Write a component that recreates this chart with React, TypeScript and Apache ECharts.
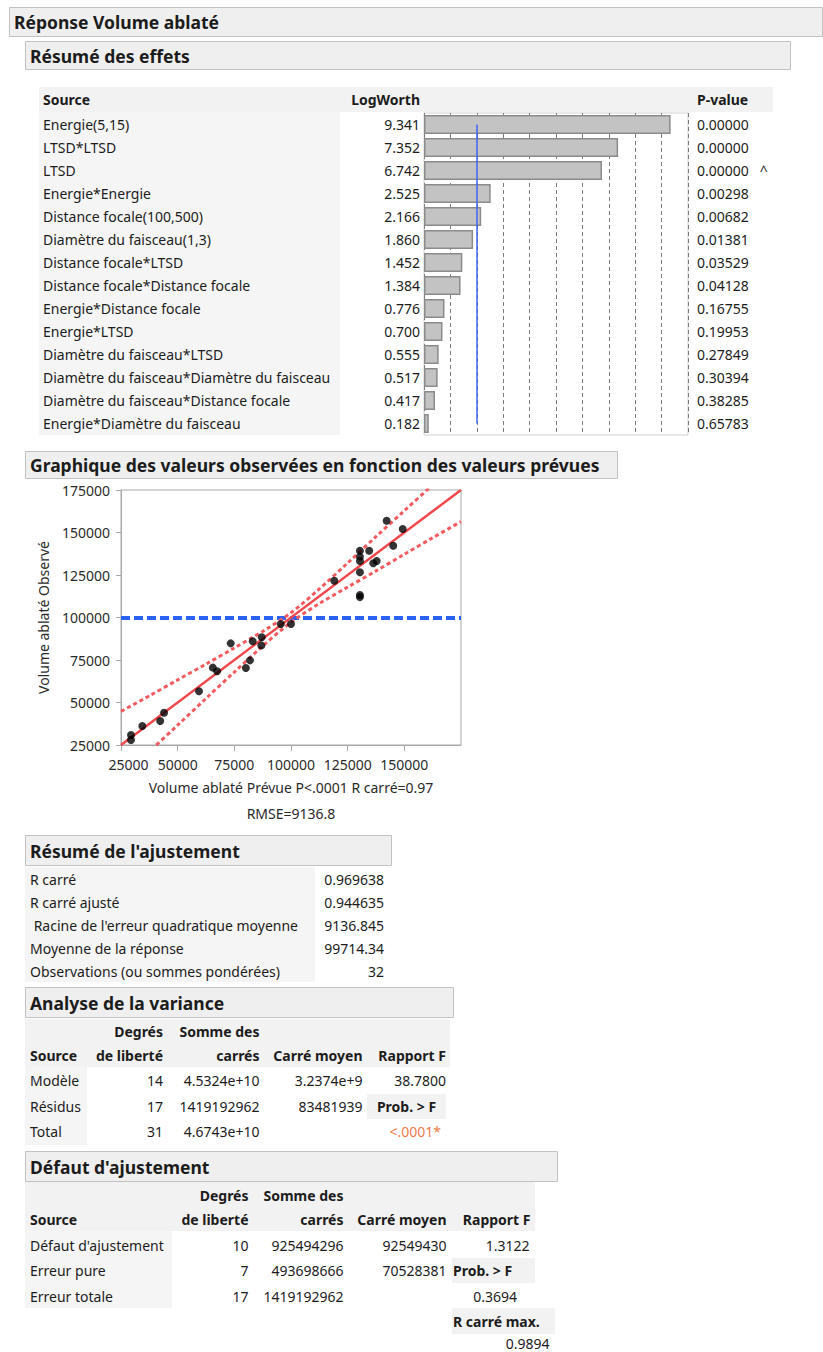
import React, { useEffect, useRef } from "react";
import * as echarts from "echarts";

// ---------- Effects summary ----------
const sources = [
  "Energie(5,15)",
  "LTSD*LTSD",
  "LTSD",
  "Energie*Energie",
  "Distance focale(100,500)",
  "Diamètre du faisceau(1,3)",
  "Distance focale*LTSD",
  "Distance focale*Distance focale",
  "Energie*Distance focale",
  "Energie*LTSD",
  "Diamètre du faisceau*LTSD",
  "Diamètre du faisceau*Diamètre du faisceau",
  "Diamètre du faisceau*Distance focale",
  "Energie*Diamètre du faisceau",
];
const logWorth = [9.341, 7.352, 6.742, 2.525, 2.166, 1.86, 1.452, 1.384, 0.776, 0.7, 0.555, 0.517, 0.417, 0.182];
const pValues = ["0.00000", "0.00000", "0.00000", "0.00298", "0.00682", "0.01381", "0.03529", "0.04128", "0.16755", "0.19953", "0.27849", "0.30394", "0.38285", "0.65783"];
const pFlags = ["", "", "^", "", "", "", "", "", "", "", "", "", "", ""];
const logWorthRef = 2;

// ---------- Actual by predicted ----------
const predicted = [29400, 29400, 34400, 42300, 44000, 59400, 65500, 67400, 73400, 80100, 81900, 83100, 87100, 86900, 95500, 100000, 119100, 130400, 130400, 130400, 130400, 130400, 130400, 134500, 136300, 137800, 142200, 145100, 149300];
const observed = [30900, 27900, 36200, 39100, 44000, 56600, 70500, 68400, 84800, 70300, 74800, 86000, 88400, 83600, 96200, 96200, 121600, 139300, 135800, 133200, 126600, 113200, 112000, 139300, 131900, 133200, 156900, 142200, 152100];
const fitLineX = [25000, 175000];
const fitLineY = [25000, 175000];
const meanResponse = 99714.34;
const bandX = [25000, 37500, 50000, 62500, 75000, 87500, 100000, 112500, 125000, 137500, 150000, 162500, 175000];
const bandUpper = [44800, 53900, 63300, 72600, 82100, 91800, 102800, 116800, 132100, 147600, 162800, 178100, 193600];
const bandLower = [5200, 21100, 36700, 52400, 67900, 83200, 97200, 108200, 117900, 127400, 137200, 146900, 156400];
const axisMin = 25000;
const axisMax = 175000;
const axisStep = 25000;
const xTitle = "Volume ablaté Prévue P<.0001 R carré=0.97";
const yTitle = "Volume ablaté Observé";
const rmseText = "RMSE=9136.8";

// ---------- Summary of fit ----------
const fitLabels = ["R carré", "R carré ajusté", " Racine de l'erreur quadratique moyenne", "Moyenne de la réponse", "Observations (ou sommes pondérées)"];
const fitValues = ["0.969638", "0.944635", "9136.845", "99714.34", "32"];

// ---------- ANOVA ----------
const anovaSources = ["Modèle", "Résidus", "Total"];
const anovaDF = ["14", "17", "31"];
const anovaSS = ["4.5324e+10", "1419192962", "4.6743e+10"];
const anovaMS = ["3.2374e+9", "83481939", ""];
const anovaF = "38.7800";
const anovaProb = "<.0001*";

// ---------- Lack of fit ----------
const lofSources = ["Défaut d'ajustement", "Erreur pure", "Erreur totale"];
const lofDF = ["10", "7", "17"];
const lofSS = ["925494296", "493698666", "1419192962"];
const lofMS = ["92549430", "70528381", ""];
const lofF = "1.3122";
const lofProb = "0.3694";
const lofMaxR2 = "0.9894";

const FONT = '"Noto Sans", "DejaVu Sans", sans-serif';
const TXT = "#1c1c1c";
const BOX_FILL = "#efefef";
const BOX_STROKE = "#c2c2c2";
const HEAD_FILL = "#f2f2f2";
const COL_FILL = "#f5f5f5";
const FS = 14;
const TITLE_FS = 17.5;

function T(x: number, y: number, text: string, o: any = {}) {
  const align = o.align || "left";
  return {
    type: "text",
    x,
    y,
    z: 10,
    silent: true,
    style: {
      text,
      fill: o.fill || TXT,
      font: `${o.bold ? "bold " : ""}${o.size || FS}px ${FONT}`,
      textAlign: align,
      align,
      textVerticalAlign: "middle",
      verticalAlign: "middle",
    },
  };
}
function R(x: number, y: number, w: number, h: number, fill: string, stroke?: string) {
  return {
    type: "rect",
    z: -1,
    silent: true,
    shape: { x, y, width: w, height: h },
    style: { fill, stroke: stroke || null, lineWidth: 1 },
  };
}
function TitleBox(x: number, y: number, w: number, h: number, text: string, tx: number) {
  return [R(x + 0.5, y + 0.5, w, h, BOX_FILL, BOX_STROKE), T(tx, y + h / 2 + 0.5, text, { bold: true, size: TITLE_FS })];
}

function buildGraphics() {
  const g: any[] = [];
  g.push(...TitleBox(9, 7, 813, 29, "Réponse Volume ablaté", 14));
  g.push(...TitleBox(25, 41, 765, 28, "Résumé des effets", 30));

  g.push(R(39, 87, 734, 25, HEAD_FILL));
  g.push(R(39, 112, 301, 323, COL_FILL));
  g.push(T(43, 99.5, "Source", { bold: true }));
  g.push(T(420, 99.5, "LogWorth", { bold: true, align: "right" }));
  g.push(T(697, 99.5, "P-value", { bold: true }));

  g.push(...TitleBox(25, 451, 592, 27, "Graphique des valeurs observées en fonction des valeurs prévues", 30));
  g.push(T(291, 813, rmseText, { align: "center", fill: "#2a2a2a" }));

  g.push(...TitleBox(25, 835, 366, 30, "Résumé de l'ajustement", 30));
  g.push(R(25, 867, 290, 115, COL_FILL));
  fitLabels.forEach((l, i) => {
    const y = 879 + 23 * i;
    g.push(T(30, y, l));
    g.push(T(384, y, fitValues[i], { align: "right" }));
  });

  g.push(...TitleBox(25, 987, 428, 30, "Analyse de la variance", 30));
  g.push(R(25, 1019, 425, 48, HEAD_FILL));
  g.push(R(25, 1067, 62, 78, COL_FILL));
  g.push(R(367, 1094, 79, 25, HEAD_FILL));
  g.push(T(163, 1031.5, "Degrés", { bold: true, align: "right" }));
  g.push(T(259.5, 1031.5, "Somme des", { bold: true, align: "right" }));
  g.push(T(30, 1055, "Source", { bold: true }));
  g.push(T(163, 1055, "de liberté", { bold: true, align: "right" }));
  g.push(T(259.5, 1055, "carrés", { bold: true, align: "right" }));
  g.push(T(362.5, 1055, "Carré moyen", { bold: true, align: "right" }));
  g.push(T(446, 1055, "Rapport F", { bold: true, align: "right" }));
  anovaSources.forEach((s, i) => {
    const y = 1080.5 + 25.5 * i;
    g.push(T(30, y, s));
    g.push(T(163, y, anovaDF[i], { align: "right" }));
    g.push(T(259.5, y, anovaSS[i], { align: "right" }));
    if (anovaMS[i]) g.push(T(362.5, y, anovaMS[i], { align: "right" }));
  });
  g.push(T(446, 1080.5, anovaF, { align: "right" }));
  g.push(T(406.5, 1106, "Prob. > F", { bold: true, align: "center" }));
  g.push(T(441, 1131.5, anovaProb, { align: "right", fill: "#f07a45" }));

  g.push(...TitleBox(25, 1151, 532, 30, "Défaut d'ajustement", 30));
  g.push(R(25, 1182, 510, 49, HEAD_FILL));
  g.push(R(25, 1231, 147, 77, COL_FILL));
  g.push(R(452, 1258, 83, 25, HEAD_FILL));
  g.push(R(452, 1308, 103, 26, HEAD_FILL));
  g.push(T(248.5, 1195, "Degrés", { bold: true, align: "right" }));
  g.push(T(343.5, 1195, "Somme des", { bold: true, align: "right" }));
  g.push(T(30, 1219, "Source", { bold: true }));
  g.push(T(248.5, 1219, "de liberté", { bold: true, align: "right" }));
  g.push(T(343.5, 1219, "carrés", { bold: true, align: "right" }));
  g.push(T(446.5, 1219, "Carré moyen", { bold: true, align: "right" }));
  g.push(T(530.5, 1219, "Rapport F", { bold: true, align: "right" }));
  lofSources.forEach((s, i) => {
    const y = 1245 + 25.5 * i;
    g.push(T(30, y, s));
    g.push(T(248.5, y, lofDF[i], { align: "right" }));
    g.push(T(343.5, y, lofSS[i], { align: "right" }));
    if (lofMS[i]) g.push(T(446.5, y, lofMS[i], { align: "right" }));
  });
  g.push(T(529.5, 1245, lofF, { align: "right" }));
  g.push(T(453, 1270.5, "Prob. > F", { bold: true }));
  g.push(T(517, 1296, lofProb, { align: "right" }));
  g.push(T(453, 1321, "R carré max.", { bold: true }));
  g.push(T(549.5, 1343.5, lofMaxR2, { align: "right" }));
  return g;
}

function buildOption() {
  const axisText = { color: "#2a2a2a", fontSize: FS, fontFamily: FONT };
  return {
    animation: false,
    backgroundColor: "#ffffff",
    textStyle: { fontFamily: FONT },
    grid: [
      { left: 424, top: 113, width: 264, height: 322, show: true, borderColor: "#d2d2d2", borderWidth: 1, backgroundColor: "#ffffff" },
      { left: 121, top: 490, width: 340, height: 255, show: true, borderColor: "#a9a9a9", borderWidth: 1, backgroundColor: "#ffffff" },
    ],
    xAxis: [
      {
        gridIndex: 0,
        type: "value",
        min: 0,
        max: 10,
        interval: 1,
        axisLine: { show: false },
        axisTick: { show: false },
        axisLabel: { show: false },
        splitLine: { show: true, lineStyle: { color: "#7c7c7c", type: [4, 3], width: 1 } },
      },
      {
        gridIndex: 1,
        type: "value",
        min: axisMin,
        max: axisMax,
        interval: axisStep,
        name: xTitle,
        nameLocation: "middle",
        nameGap: 42,
        nameTextStyle: { ...axisText, verticalAlign: "middle" },
        axisLine: { show: true, lineStyle: { color: "#a9a9a9" } },
        axisTick: { show: true, length: 6, lineStyle: { color: "#a9a9a9" } },
        axisLabel: {
          ...axisText,
          margin: 12,
          showMaxLabel: false,
          formatter: (v: number) => (v === axisMin ? `{f|${v}}` : String(v)),
          rich: { f: { ...axisText, padding: [0, 0, 0, 15] } },
        },
        splitLine: { show: false },
      },
    ],
    yAxis: [
      {
        gridIndex: 0,
        type: "category",
        data: sources,
        inverse: true,
        position: "left",
        axisLine: { show: false },
        axisTick: { show: false },
        axisLabel: { ...axisText, color: TXT, interval: 0, margin: 381, align: "left" },
        splitLine: { show: false },
      },
      {
        gridIndex: 0,
        type: "category",
        data: sources,
        inverse: true,
        position: "right",
        axisLine: { show: false },
        axisTick: { show: false },
        axisLabel: {
          ...axisText,
          color: TXT,
          interval: 0,
          margin: 9,
          align: "left",
          formatter: (_v: string, i: number) => pValues[i] + (pFlags[i] ? "   " + pFlags[i] : ""),
        },
        splitLine: { show: false },
      },
      {
        gridIndex: 1,
        type: "value",
        min: axisMin,
        max: axisMax,
        interval: axisStep,
        name: yTitle,
        nameLocation: "middle",
        nameGap: 78,
        nameRotate: 90,
        nameTextStyle: { ...axisText, verticalAlign: "middle" },
        axisLine: { show: true, lineStyle: { color: "#a9a9a9" } },
        axisTick: { show: true, length: 5, lineStyle: { color: "#a9a9a9" } },
        axisLabel: { ...axisText, margin: 11, formatter: (v: number) => String(v) },
        splitLine: { show: false },
      },
    ],
    graphic: { elements: buildGraphics() },
    series: [
      {
        type: "bar",
        xAxisIndex: 0,
        yAxisIndex: 0,
        data: logWorth,
        barWidth: 19,
        itemStyle: { color: "#c3c3c3", borderColor: "#8b8b8b", borderWidth: 1.5 },
        label: {
          show: true,
          position: "left",
          distance: 4,
          formatter: (p: any) => Number(p.value).toFixed(3),
          color: TXT,
          fontSize: FS,
          fontFamily: FONT,
        },
        markLine: {
          silent: true,
          symbol: "none",
          label: { show: false },
          lineStyle: { color: "#3b66f0", width: 1.5, type: "solid" },
          data: [[{ coord: [logWorthRef, sources[0]] }, { coord: [logWorthRef, sources[sources.length - 1]] }]],
        },
      },
      {
        type: "line",
        xAxisIndex: 1,
        yAxisIndex: 2,
        data: [[axisMin, meanResponse], [axisMax, meanResponse]],
        symbol: "none",
        lineStyle: { color: "#2b62f6", width: 4, type: [9, 4] },
        z: 2,
      },
      {
        type: "line",
        xAxisIndex: 1,
        yAxisIndex: 2,
        data: bandX.map((x, i) => [x, bandUpper[i]]),
        symbol: "none",
        smooth: 0.3,
        clip: true,
        lineStyle: { color: "#f45b5f", width: 3, type: [4, 3] },
        z: 3,
      },
      {
        type: "line",
        xAxisIndex: 1,
        yAxisIndex: 2,
        data: bandX.map((x, i) => [x, bandLower[i]]),
        symbol: "none",
        smooth: 0.3,
        clip: true,
        lineStyle: { color: "#f45b5f", width: 3, type: [4, 3] },
        z: 3,
      },
      {
        type: "line",
        xAxisIndex: 1,
        yAxisIndex: 2,
        data: fitLineX.map((x, i) => [x, fitLineY[i]]),
        symbol: "none",
        lineStyle: { color: "#f0484c", width: 2.5 },
        z: 4,
      },
      {
        type: "scatter",
        xAxisIndex: 1,
        yAxisIndex: 2,
        data: predicted.map((x, i) => [x, observed[i]]),
        symbol: "circle",
        symbolSize: 8,
        itemStyle: { color: "#000000" },
        z: 5,
      },
    ],
  };
}

export default function App() {
  const ref = useRef<HTMLDivElement>(null);
  useEffect(() => {
    if (!ref.current) return;
    const chart = echarts.init(ref.current, undefined, { renderer: "svg" });
    chart.setOption(buildOption() as any);
    return () => chart.dispose();
  }, []);
  return (
    <div
      ref={ref}
      style={{ position: "absolute", left: 0, top: 0, width: 823, height: 1352, background: "#fff" }}
    />
  );
}
